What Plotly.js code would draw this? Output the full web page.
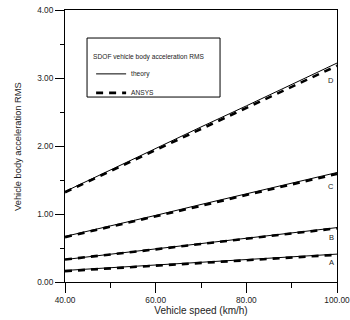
<!DOCTYPE html>
<html>
<head>
<meta charset="utf-8">
<script src="https://cdn.plot.ly/plotly-3.0.1.min.js"></script>
<style>html,body{margin:0;padding:0;background:#fff;}#chart{width:350px;height:320px;}</style>
</head>
<body>
<div id="chart"></div>
<script>
const speed = [40, 50, 60, 70, 80, 90, 100];
const theoryA = [0.17, 0.21, 0.25, 0.29, 0.33, 0.37, 0.41];
const theoryB = [0.33, 0.41, 0.49, 0.57, 0.65, 0.72, 0.80];
const theoryC = [0.67, 0.82, 0.98, 1.14, 1.30, 1.45, 1.61];
const theoryD = [1.33, 1.65, 1.96, 2.28, 2.59, 2.91, 3.22];
const ansysA = [0.16, 0.20, 0.24, 0.28, 0.32, 0.36, 0.40];
const ansysB = [0.33, 0.40, 0.48, 0.56, 0.64, 0.71, 0.79];
const ansysC = [0.66, 0.81, 0.97, 1.12, 1.28, 1.43, 1.59];
const ansysD = [1.32, 1.63, 1.94, 2.25, 2.56, 2.87, 3.18];
const curveLabels = ['A', 'B', 'C', 'D'];
const labelY = [0.28, 0.66, 1.41, 2.97];

const FONT = 'Liberation Sans, Arial, sans-serif';
const theorySets = [theoryA, theoryB, theoryC, theoryD];
const ansysSets = [ansysA, ansysB, ansysC, ansysD];
const traces = [];
ansysSets.forEach((ys, i) => {
  traces.push({
    x: speed, y: ys, type: 'scatter', mode: 'lines',
    name: 'ANSYS', legendgroup: 'ansys', showlegend: i === 0,
    line: {color: '#000', width: 2.6, dash: '7px,6px'}
  });
});
theorySets.forEach((ys, i) => {
  traces.push({
    x: speed, y: ys, type: 'scatter', mode: 'lines',
    name: 'theory', legendgroup: 'theory', showlegend: i === 0,
    line: {color: '#000', width: 1}
  });
});

const annotations = curveLabels.map((t, i) => ({
  x: 100, y: labelY[i], xref: 'x', yref: 'y', text: t, showarrow: false,
  xanchor: 'right', xshift: -1, font: {family: FONT, size: 7.5, color: '#222'}
}));
annotations.push({
  x: -0.173, y: 0.5, xref: 'paper', yref: 'paper', text: 'Vehicle body acceleration RMS',
  textangle: -90, showarrow: false, xanchor: 'center', yanchor: 'middle',
  font: {family: FONT, size: 9.3, color: '#222'}
});

const layout = {
  width: 350, height: 320,
  margin: {l: 65, r: 13, t: 10, b: 38},
  paper_bgcolor: '#fff', plot_bgcolor: '#fff',
  font: {family: FONT, color: '#222'},
  xaxis: {
    range: [40, 100], dtick: 20, tick0: 40, tickformat: '.2f',
    ticks: 'outside', ticklen: 10, tickwidth: 1, tickcolor: '#000',
    ticklabeloverflow: 'allow',
    minor: {dtick: 10, ticks: 'outside', ticklen: 5, tickwidth: 1, tickcolor: '#000', showgrid: false},
    showline: true, linecolor: '#000', linewidth: 1, mirror: true,
    showgrid: false, zeroline: false,
    tickfont: {family: FONT, size: 8.3, color: '#222'},
    title: {text: 'Vehicle speed (km/h)', font: {family: FONT, size: 10, color: '#222'}, standoff: 2}
  },
  yaxis: {
    range: [0, 4], dtick: 1, tick0: 0, tickformat: '.2f',
    ticks: 'outside', ticklen: 9, tickwidth: 1, tickcolor: '#000',
    minor: {dtick: 0.5, ticks: 'outside', ticklen: 4, tickwidth: 1, tickcolor: '#000', showgrid: false},
    showline: true, linecolor: '#000', linewidth: 1, mirror: true,
    showgrid: false, zeroline: false,
    tickfont: {family: FONT, size: 8.3, color: '#222'}
  },
  showlegend: true,
  legend: {
    x: 0.096, y: 0.85, xanchor: 'left', yanchor: 'top',
    bgcolor: 'rgba(0,0,0,0)', borderwidth: 0,
    traceorder: 'reversed', tracegroupgap: 0,
    title: {text: 'SDOF vehicle body acceleration RMS', font: {family: FONT, size: 6.6, color: '#222'}},
    font: {family: FONT, size: 6.6, color: '#222'}
  },
  shapes: [{
    type: 'rect', xref: 'paper', yref: 'paper',
    x0: 0.081, x1: 0.57, y0: 0.68, y1: 0.897,
    line: {color: '#000', width: 1}
  }],
  annotations: annotations
};

Plotly.newPlot('chart', traces, layout, {staticPlot: true, displayModeBar: false});
</script>
</body>
</html>
